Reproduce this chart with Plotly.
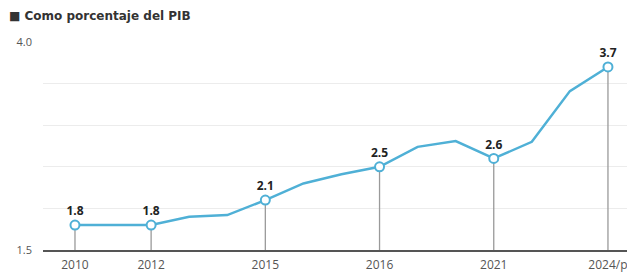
import plotly.graph_objects as go

years = list(range(2010, 2025))
values = [1.8, 1.8, 1.8, 1.9, 1.92, 2.1, 2.3, 2.41, 2.5, 2.74, 2.81, 2.6, 2.8, 3.41, 3.7]

hl_years = [2010, 2012, 2015, 2018, 2021, 2024]
hl_labels = ["1.8", "1.8", "2.1", "2.5", "2.6", "3.7"]
tick_text = ["2010", "2012", "2015", "2016", "2021", "2024/p"]

y_min, y_max = 1.5, 4.0
y_grid = [1.5, 2.0, 2.5, 3.0, 3.5, 4.0]
y_grid_text = ["1.5", "", "", "", "", "4.0"]

lookup = dict(zip(years, values))
hl_values = [lookup[y] for y in hl_years]

blue = "#4fb0d6"

fig = go.Figure()

# drop lines via error bars
fig.add_trace(go.Scatter(
    x=hl_years, y=hl_values, mode="markers",
    marker=dict(size=1, color="rgba(0,0,0,0)"),
    error_y=dict(type="data", symmetric=False,
                 array=[0] * len(hl_values),
                 arrayminus=[v - y_min for v in hl_values],
                 width=0, thickness=1.3, color="#9a9a9a"),
    hoverinfo="skip", showlegend=False,
))

fig.add_trace(go.Scatter(
    x=years, y=values, mode="lines",
    line=dict(color=blue, width=2.5),
    showlegend=False, cliponaxis=False,
))

fig.add_trace(go.Scatter(
    x=hl_years, y=hl_values, mode="markers+text",
    text=hl_labels, textposition="top center",
    textfont=dict(family="Open Sans", size=12, color="#222222", weight="bold"),
    marker=dict(size=9, color="white", line=dict(color=blue, width=2)),
    showlegend=False, cliponaxis=False,
))

fig.add_annotation(
    text="■ Como porcentaje del PIB", xref="paper", yref="paper",
    x=0, y=1, xshift=-36, yshift=35, xanchor="left", yanchor="top",
    showarrow=False,
    font=dict(family="DejaVu Sans", size=12, color="#333333", weight="bold"),
)

fig.update_layout(
    width=627, height=275,
    margin=dict(l=43, r=0, t=42, b=25, autoexpand=False),
    paper_bgcolor="white", plot_bgcolor="white",
    xaxis=dict(
        range=[2009.16, 2024.5], automargin=False,
        tickvals=hl_years, ticktext=tick_text,
        showgrid=False, zeroline=False,
        showline=True, linecolor="#555555", linewidth=2,
        ticks="", ticklabeloverflow="allow", ticklabelstandoff=3,
        tickfont=dict(family="Open Sans", size=12, color="#555555"),
    ),
    yaxis=dict(
        range=[y_min, y_max], automargin=False,
        tickvals=y_grid, ticktext=y_grid_text,
        showgrid=True, gridcolor="#ececec", gridwidth=1,
        zeroline=False, showline=False, ticks="",
        ticklabelstandoff=10,
        tickfont=dict(family="Open Sans", size=11, color="#555555"),
    ),
)

fig.write_html("out.html", config={"displayModeBar": False},
               post_script="document.body.style.margin='0';")
